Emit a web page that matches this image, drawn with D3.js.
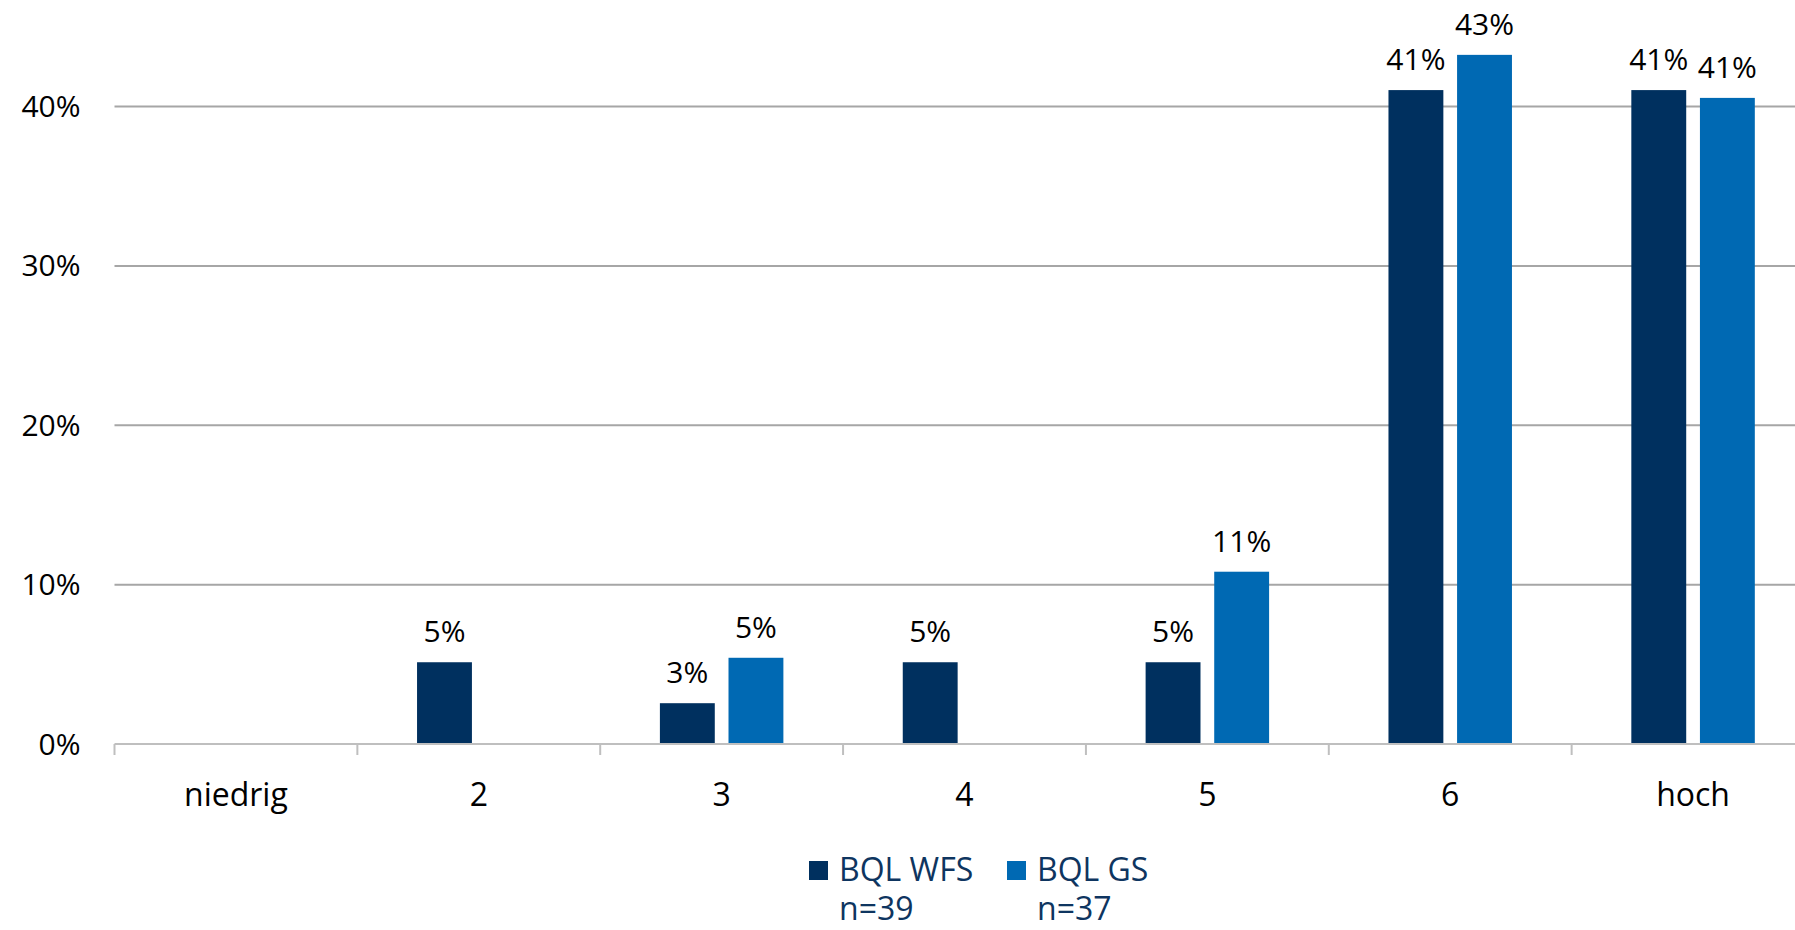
<!DOCTYPE html>
<html>
<head>
<style>
  body { margin:0; background:#fff; }
  svg { font-family:"Open Sans", sans-serif; }
</style>
<script src="https://d3js.org/d3.v7.min.js"></script>
</head>
<body>
<div id="chart"></div>
<script>
// data
var categories = ["niedrig", "2", "3", "4", "5", "6", "hoch"];
var wfsValues = [0, 5.13, 2.56, 5.13, 5.13, 41.03, 41.03];
var gsValues = [0, 0, 5.41, 0, 10.81, 43.24, 40.54];
var wfsLabels = ["", "5%", "3%", "5%", "5%", "41%", "41%"];
var gsLabels = ["", "", "5%", "", "11%", "43%", "41%"];
var yTicks = [0, 10, 20, 30, 40];
var seriesNames = ["BQL WFS", "BQL GS"];
var seriesN = ["n=39", "n=37"];
var colors = ["#00305F", "#0069B3"];

const width = 1795, height = 930;
const left = 114.5, right = 1814.5, y0 = 744, y40 = 106.5;
const fs = 30, fsBig = 32;

const svg = d3.select("#chart").append("svg")
  .attr("width", width)
  .attr("height", height);

var xScale = d3.scaleBand().domain(categories).range([left, right]);
var inner = d3.scaleBand().domain([0, 1]).range([0, xScale.bandwidth()])
  .paddingInner(0.2).paddingOuter(0.87);
var yScale = d3.scaleLinear().domain([0, 40]).range([y0, y40]);

// gridlines
svg.append("g").selectAll("line")
  .data(yTicks.filter(d => d > 0))
  .enter().append("line")
  .attr("x1", left).attr("x2", width)
  .attr("y1", d => yScale(d)).attr("y2", d => yScale(d))
  .attr("stroke", "#A6A6A6").attr("stroke-width", 2);

// y labels
svg.append("g").selectAll("text")
  .data(yTicks)
  .enter().append("text")
  .attr("x", left - 34)
  .attr("y", d => yScale(d) + 10.5)
  .attr("text-anchor", "end")
  .attr("font-size", fs)
  .attr("fill", "#000")
  .text(d => d + "%");

// bars
var series = [wfsValues, gsValues];
var labels = [wfsLabels, gsLabels];
series.forEach(function(vals, s) {
  var g = svg.append("g");
  g.selectAll("rect")
    .data(categories.map((c, i) => ({c: c, v: vals[i]})).filter(d => d.v > 0))
    .enter().append("rect")
    .attr("x", d => xScale(d.c) + inner(s))
    .attr("width", inner.bandwidth())
    .attr("y", d => yScale(d.v))
    .attr("height", d => y0 - yScale(d.v))
    .attr("fill", colors[s]);
  g.selectAll("text")
    .data(categories.map((c, i) => ({c: c, v: vals[i], t: labels[s][i]})).filter(d => d.t))
    .enter().append("text")
    .attr("x", d => xScale(d.c) + inner(s) + inner.bandwidth() / 2)
    .attr("y", d => yScale(d.v) - 20)
    .attr("text-anchor", "middle")
    .attr("font-size", fs)
    .attr("fill", "#000")
    .text(d => d.t);
});

// x axis
svg.append("line")
  .attr("x1", left).attr("x2", width)
  .attr("y1", y0).attr("y2", y0)
  .attr("stroke", "#BFBFBF").attr("stroke-width", 2);
svg.append("g").selectAll("line")
  .data(categories)
  .enter().append("line")
  .attr("x1", d => xScale(d)).attr("x2", d => xScale(d))
  .attr("y1", y0).attr("y2", y0 + 11)
  .attr("stroke", "#BFBFBF").attr("stroke-width", 2);
svg.append("g").selectAll("text")
  .data(categories)
  .enter().append("text")
  .attr("x", d => xScale(d) + xScale.bandwidth() / 2)
  .attr("y", 806)
  .attr("text-anchor", "middle")
  .attr("font-size", fsBig)
  .attr("fill", "#000")
  .text(d => d);

// legend
var legendX = [809, 1007];
seriesNames.forEach(function(name, i) {
  var lg = svg.append("g").attr("transform", "translate(" + legendX[i] + ",0)");
  lg.append("rect").attr("x", 0).attr("y", 861).attr("width", 19).attr("height", 19)
    .attr("fill", colors[i]);
  lg.append("text").attr("x", 30).attr("y", 881).attr("font-size", fsBig)
    .attr("fill", "#0E3560").text(name);
  lg.append("text").attr("x", 30).attr("y", 920).attr("font-size", fsBig)
    .attr("fill", "#0E3560").text(seriesN[i]);
});
</script>
</body>
</html>
